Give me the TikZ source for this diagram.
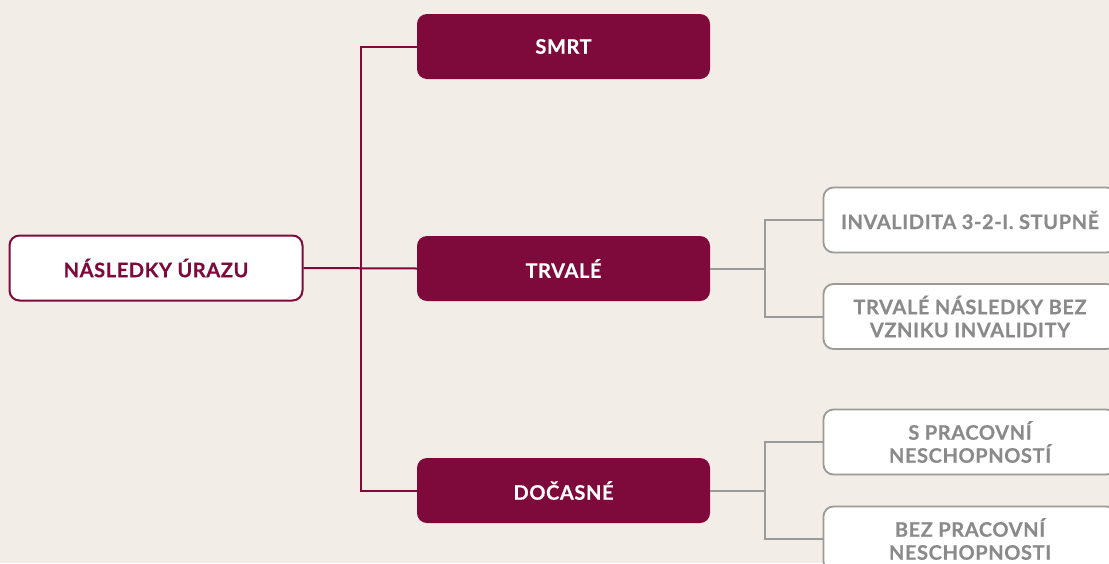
\documentclass[tikz,border=0pt]{standalone}
\usepackage{fontspec}
\setmainfont{Lato}
\newfontfamily\boxfont[LetterSpace=3,FakeBold=0.4]{Lato Bold}
\definecolor{bgc}{HTML}{F2EDE6}
\definecolor{maroon}{HTML}{7E0A3B}
\definecolor{greyline}{HTML}{9A9A98}
\definecolor{greytext}{HTML}{8A8A8A}
\begin{document}
\begin{tikzpicture}[x=1pt,y=-1pt,
  base/.style={rounded corners=10pt, minimum width=293pt, minimum height=65pt, align=center, font=\boxfont\fontsize{20}{23}\selectfont, inner sep=0pt},
  rootbox/.style={base, draw=maroon, line width=2pt, fill=white, text=maroon},
  midbox/.style={base, fill=maroon, text=white},
  leafbox/.style={base, draw=greyline, line width=1.8pt, fill=white, text=greytext},
  mline/.style={draw=maroon, line width=2pt},
  gline/.style={draw=greyline, line width=2pt}]
\useasboundingbox (0,0) rectangle (1109,563);
\clip (0,0) rectangle (1109,563);
\fill[bgc] (0,0) rectangle (1109,563);
\node[rootbox] (root) at (156,268) {NÁSLEDKY ÚRAZU};
\node[midbox] (smrt) at (563.5,46.5) {SMRT};
\node[midbox] (trv) at (563.5,268.5) {TRVALÉ};
\node[midbox] (doc) at (563.5,490.5) {DOČASNÉ};
\node[leafbox] (inv) at (970,220) {INVALIDITA 3-2-I. STUPNĚ};
\node[leafbox] (trn) at (970,316.5) {TRVALÉ NÁSLEDKY BEZ\\VZNIKU INVALIDITY};
\node[leafbox] (spr) at (970,442) {S PRACOVNÍ\\NESCHOPNOSTÍ};
\node[leafbox] (bpr) at (970,539) {BEZ PRACOVNÍ\\NESCHOPNOSTI};
\coordinate (j1) at (361,268.5);
\coordinate (j2) at (765,268.5);
\coordinate (j3) at (765,490.5);
\draw[mline] (root.east) -- (trv.west);
\draw[mline] (smrt.west) -| (j1) |- (doc.west);
\draw[gline] (trv.east) -- (j2);
\draw[gline] (inv.west) -| (j2) |- (trn.west);
\draw[gline] (doc.east) -- (j3);
\draw[gline] (spr.west) -| (j3) |- (bpr.west);
\end{tikzpicture}
\end{document}
